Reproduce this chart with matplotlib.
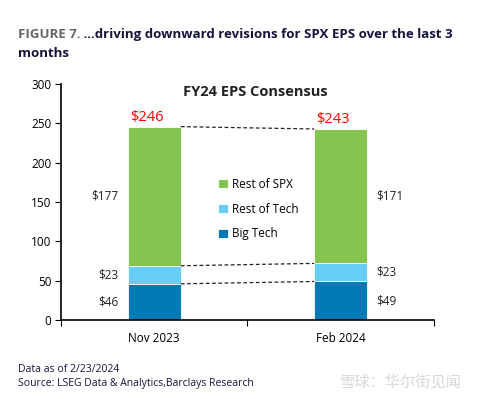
import matplotlib
matplotlib.use('Agg')
import matplotlib.pyplot as plt
from matplotlib.transforms import offset_copy
import numpy as np

plt.rcParams['font.family'] = ['Open Sans', 'DejaVu Sans']

# data
periods = ['Nov 2023', 'Feb 2024']
big_tech = [46, 49]
rest_of_tech = [23, 23]
rest_of_spx = [177, 171]
segment_names = ['Big Tech', 'Rest of Tech', 'Rest of SPX']
y_ticks = [0, 50, 100, 150, 200, 250, 300]

colors = ['#0079B5', '#66CDF5', '#84C451']

fig = plt.figure(figsize=(4.86, 3.99), dpi=100)
ax = fig.add_axes([0.1255, 0.198, 0.7675, 0.591])

x = np.arange(len(periods))
width = 0.285
series = [big_tech, rest_of_tech, rest_of_spx]
bottoms = np.zeros(len(periods))
for vals, name, col in zip(series, segment_names, colors):
    ax.bar(x, vals, width, bottom=bottoms, color=col, label=name,
           edgecolor='white', linewidth=0.6)
    # segment value labels: left of first bar, right of second bar
    for i, v in enumerate(vals):
        mid = bottoms[i] + v / 2
        if i == 0:
            ax.text(x[i] - width / 2 - 0.05, mid, f'${v}', ha='right', va='center',
                    fontsize=8.5, color='#222222')
        else:
            ax.text(x[i] + width / 2 + 0.05, mid, f'${v}', ha='left', va='center',
                    fontsize=8.5, color='#222222')
    bottoms = bottoms + np.array(vals)

totals = bottoms
for i, t in enumerate(totals):
    ax.text(x[i] - 0.04, t + 2, f'${int(t)}', ha='center', va='bottom',
            fontsize=10.5, color='#FF0000')

# dashed connectors between bars
levels = [np.array(big_tech), np.array(big_tech) + np.array(rest_of_tech), totals]
for lv in levels:
    ax.plot([x[0] + width / 2, x[1] - width / 2], [lv[0], lv[1]],
            ls=(0, (3, 2)), color='#222222', lw=0.9)

ax.set_xlim(-0.5, 1.5)
ax.set_ylim(0, 300)
ax.set_yticks(y_ticks)
ax.set_xticks([-0.5, 0.5, 1.5])
ax.set_xticklabels([])
ax.set_xticks(x, minor=True)
ax.set_xticklabels(periods, minor=True, fontsize=8.5)
ax.tick_params(axis='x', which='minor', length=0, pad=9)
ax.tick_params(axis='x', which='major', direction='out', length=4)
ax.tick_params(axis='y', direction='out', length=4, labelsize=8.5, pad=3)
for s in ['top', 'right']:
    ax.spines[s].set_visible(False)
ax.spines['left'].set_linewidth(1.2)
ax.spines['bottom'].set_linewidth(1.2)

ax.text(0.52, 0.995, 'FY24 EPS Consensus', transform=ax.transAxes, ha='center', va='top',
        fontsize=10.5, fontweight='bold', color='#222222')

handles, labels = ax.get_legend_handles_labels()
ax.legend(handles[::-1], labels[::-1], loc='center', bbox_to_anchor=(0.53, 0.47),
          frameon=False, fontsize=8.5, handlelength=0.8, handleheight=0.8,
          handletextpad=0.4, labelspacing=1.0)

# figure heading, two colours on one line
t1 = fig.text(0.037, 0.905, 'FIGURE 7.', fontsize=9.5, fontweight='bold', color='#666666')
fig.canvas.draw()
w = t1.get_window_extent().width
fig.text(0.037, 0.905, ' ...driving downward revisions for SPX EPS over the last 3',
         fontsize=9.5, fontweight='bold', color='#14143C',
         transform=offset_copy(fig.transFigure, fig=fig, x=w, y=0, units='dots'))
fig.text(0.037, 0.858, 'months', fontsize=9.5, fontweight='bold', color='#14143C')

fig.text(0.037, 0.068, 'Data as of 2/23/2024', fontsize=7.5, color='#14143C')
fig.text(0.037, 0.032, 'Source: LSEG Data & Analytics,Barclays Research', fontsize=7.5,
         color='#14143C')
fig.text(0.70, 0.03, '雪球：华尔街见闻', fontsize=11, color='#D8D8D8',
         family=['Noto Sans CJK SC', 'DejaVu Sans'])

fig.savefig('out.png', dpi=100)
